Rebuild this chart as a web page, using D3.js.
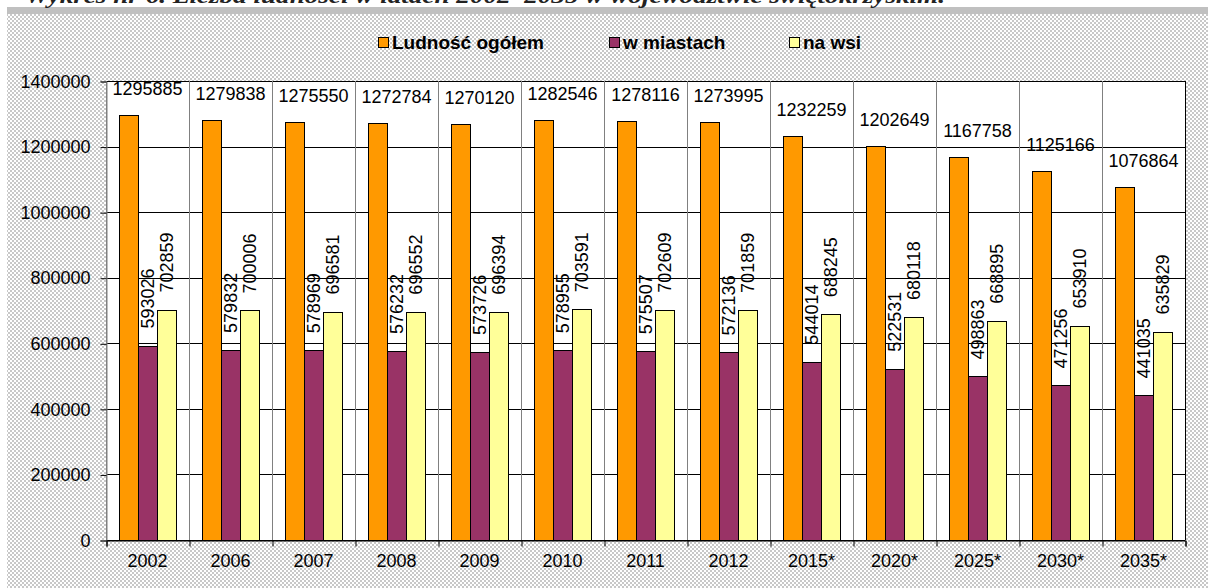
<!DOCTYPE html>
<html>
<head>
<meta charset="utf-8">
<script src="https://cdn.jsdelivr.net/npm/d3@7"></script>
<style>
  body { margin: 0; background: #fff; }
  svg { display: block; }
</style>
</head>
<body>
<svg id="chart" width="1208" height="588"></svg>
<script>
// Population of the voivodeship, actual and projected (*)
const years = ["2002", "2006", "2007", "2008", "2009", "2010", "2011", "2012", "2015*", "2020*", "2025*", "2030*", "2035*"];
const total = [1295885, 1279838, 1275550, 1272784, 1270120, 1282546, 1278116, 1273995, 1232259, 1202649, 1167758, 1125166, 1076864];
const urban = [593026, 579832, 578969, 576232, 573726, 578955, 575507, 572136, 544014, 522531, 498863, 471256, 441035];
const rural = [702859, 700006, 696581, 696552, 696394, 703591, 702609, 701859, 688245, 680118, 668895, 653910, 635829];
const seriesNames = ["Ludność ogółem", "w miastach", "na wsi"];
const seriesColors = ["#FF9900", "#993366", "#FFFF99"];
const yTicks = [0, 200000, 400000, 600000, 800000, 1000000, 1200000, 1400000];
const titleText = "Wykres nr 6. Liczba ludności w latach 2002–2035 w województwie świętokrzyskim.";

const W = 1208, H = 588;
const plot = { left: 106, right: 1185, top: 81, bottom: 540 };
const FONT = "'Liberation Sans', Arial, sans-serif";

const svg = d3.select("#chart");

// hatched backdrop
const defs = svg.append("defs");
const pat = defs.append("pattern")
  .attr("id", "chk").attr("width", 4).attr("height", 4)
  .attr("patternUnits", "userSpaceOnUse");
pat.append("rect").attr("width", 4).attr("height", 4).attr("fill", "#ffffff");
pat.append("rect").attr("x", 0).attr("y", 0).attr("width", 2).attr("height", 2).attr("fill", "#c8c8c8");
pat.append("rect").attr("x", 2).attr("y", 2).attr("width", 2).attr("height", 2).attr("fill", "#c8c8c8");

svg.append("rect").attr("x", 0).attr("y", 0).attr("width", W).attr("height", H).attr("fill", "#fff");
svg.append("rect").attr("x", 7).attr("y", 14).attr("width", W - 7).attr("height", H - 14).attr("fill", "url(#chk)");
svg.append("rect").attr("x", 7).attr("y", 7).attr("width", W - 7).attr("height", 7).attr("fill", "#c0c0c0");

// caption (its upper part runs off the top of the page)
svg.append("text")
  .attr("x", 25).attr("y", 3)
  .attr("font-family", "'Liberation Serif', 'Times New Roman', serif")
  .attr("font-style", "italic").attr("font-weight", "bold")
  .attr("font-size", 22).attr("fill", "#222")
  .attr("textLength", 920).attr("lengthAdjust", "spacingAndGlyphs")
  .text(titleText);

// scales
const x = d3.scaleBand().domain(years).range([plot.left, plot.right]).paddingInner(0).paddingOuter(0);
const xs = d3.scaleBand().domain(d3.range(3)).range([0, x.bandwidth()]).paddingInner(0).paddingOuter(0.647);
const y = d3.scaleLinear().domain([0, 1400000]).range([plot.bottom, plot.top]);
const xb = d3.scaleLinear().domain([0, years.length]).range([plot.left, plot.right]);

// plot area
svg.append("rect")
  .attr("x", plot.left).attr("y", plot.top)
  .attr("width", plot.right - plot.left).attr("height", plot.bottom - plot.top)
  .attr("fill", "#fff");

// horizontal gridlines
svg.append("g").selectAll("line").data(yTicks).join("line")
  .attr("x1", plot.left).attr("x2", plot.right)
  .attr("y1", d => Math.round(y(d)) + 0.5).attr("y2", d => Math.round(y(d)) + 0.5)
  .attr("stroke", "#000").attr("stroke-width", 1);

// category separators
svg.append("g").selectAll("line").data(d3.range(years.length)).join("line")
  .attr("x1", d => Math.round(xb(d)) + 0.5).attr("x2", d => Math.round(xb(d)) + 0.5)
  .attr("y1", plot.top).attr("y2", plot.bottom)
  .attr("stroke", "#808080").attr("stroke-width", 1);
svg.append("line")
  .attr("x1", plot.right + 0.5).attr("x2", plot.right + 0.5)
  .attr("y1", plot.top).attr("y2", plot.bottom)
  .attr("stroke", "#000");

// bars
const series = [total, urban, rural];
const barsG = svg.append("g");
series.forEach((vals, si) => {
  barsG.selectAll(null).data(vals).join("rect")
    .attr("x", (d, i) => Math.round(x(years[i]) + xs(si)) + 0.5)
    .attr("y", d => Math.round(y(d)) + 0.5)
    .attr("width", Math.round(xs.bandwidth()))
    .attr("height", d => Math.round(y(0)) - Math.round(y(d)))
    .attr("fill", seriesColors[si])
    .attr("stroke", "#000").attr("stroke-width", 1);
});

// value labels: totals horizontal, urban/rural vertical
const labG = svg.append("g").attr("font-family", FONT).attr("font-size", 18).attr("fill", "#000");
labG.selectAll(null).data(total).join("text")
  .attr("x", (d, i) => x(years[i]) + x.bandwidth() / 2)
  .attr("y", d => Math.max(y(d) - 20, plot.top + 13))
  .attr("text-anchor", "middle")
  .text(d => d);

[urban, rural].forEach((vals, k) => {
  const si = k + 1;
  labG.selectAll(null).data(vals).join("text")
    .attr("transform", (d, i) => {
      const cx = x(years[i]) + xs(si) + xs.bandwidth() / 2;
      return `translate(${cx},${y(d) - 17}) rotate(-90)`;
    })
    .attr("dy", "0.36em")
    .attr("text-anchor", "start")
    .text(d => d);
});

// y axis
const yAxis = svg.append("g")
  .attr("transform", `translate(${plot.left + 0.5},0.5)`)
  .call(d3.axisLeft(y).tickValues(yTicks).tickSize(6).tickPadding(10).tickFormat(d3.format("d")));
yAxis.select(".domain").attr("stroke", "#808080");
yAxis.selectAll(".tick line").attr("stroke", "#000");
yAxis.selectAll(".tick text").attr("font-family", FONT).attr("font-size", 18).attr("fill", "#000");

// x axis: ticks at category boundaries, labels centred
const xAxisTicks = svg.append("g")
  .attr("transform", `translate(0.5,${plot.bottom + 0.5})`)
  .call(d3.axisBottom(xb).tickValues(d3.range(years.length + 1)).tickSize(6).tickFormat(""));
xAxisTicks.select(".domain").attr("stroke", "#000");
xAxisTicks.selectAll(".tick line").attr("stroke", "#000");

const xAxisLabels = svg.append("g")
  .attr("transform", `translate(0,${plot.bottom})`)
  .call(d3.axisBottom(x).tickSize(0).tickPadding(14));
xAxisLabels.select(".domain").remove();
xAxisLabels.selectAll(".tick text").attr("font-family", FONT).attr("font-size", 18).attr("fill", "#000");

// legend
const legend = svg.append("g").attr("font-family", FONT).attr("font-weight", "bold").attr("font-size", 19);
const legendX = [378, 609, 789];
seriesNames.forEach((name, i) => {
  legend.append("rect")
    .attr("x", legendX[i] + 0.5).attr("y", 37.5)
    .attr("width", 10).attr("height", 10)
    .attr("fill", seriesColors[i]).attr("stroke", "#000");
  legend.append("text")
    .attr("x", legendX[i] + 14).attr("y", 49)
    .attr("fill", "#000")
    .text(name);
});
</script>
</body>
</html>
